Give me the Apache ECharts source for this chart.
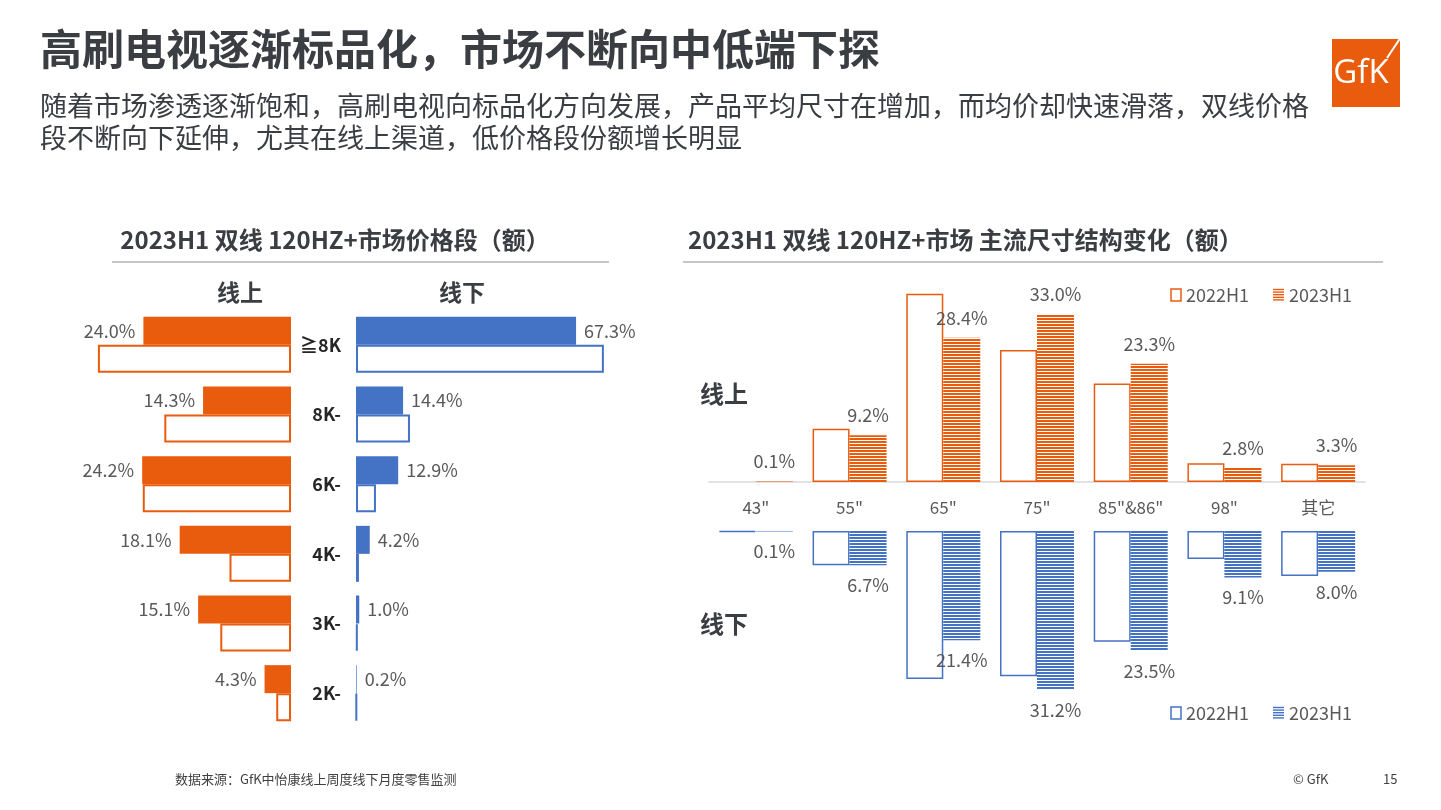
<!DOCTYPE html>
<html>
<head>
<meta charset="utf-8">
<script src="https://cdn.jsdelivr.net/npm/echarts@6/dist/echarts.min.js"></script>
<style>
html,body{margin:0;padding:0;background:#fff;}
#chart{width:1441px;height:810px;}
</style>
</head>
<body>
<div id="chart"></div>
<script>
// ---------- data ----------
const priceCats = ['≧8K', '8K-', '6K-', '4K-', '3K-', '2K-'];
const online2023Price = [24.0, 14.3, 24.2, 18.1, 15.1, 4.3];
const online2022Price = [31.4, 20.6, 24.1, 10.0, 11.5, 2.4];
const offline2023Price = [67.3, 14.4, 12.9, 4.2, 1.0, 0.2];
const offline2022Price = [75.8, 16.5, 6.1, 0.9, 0.5, 0.2];

const sizeCats = ['43"', '55"', '65"', '75"', '85"&86"', '98"', '其它'];
const online2022Size = [0, 10.5, 37.1, 26.0, 19.4, 3.7, 3.6];
const online2023Size = [0.1, 9.2, 28.4, 33.0, 23.3, 2.8, 3.3];
const offline2022Size = [0.2, 6.7, 29.0, 28.5, 21.7, 5.5, 8.8];
const offline2023Size = [0.1, 6.7, 21.4, 31.2, 23.5, 9.1, 8.0];

const seriesNames = ['2022H1', '2023H1'];

// ---------- style ----------
const ORANGE = '#E95C0E';
const BLUE = '#4472C4';
const GRAY = '#595959';
const DARK = '#3a3d42';
const FONT = '"Noto Sans CJK SC", "Noto Sans", sans-serif';

function stripes(color) {
  const c = document.createElement('canvas');
  c.width = 4; c.height = 3;
  const ctx = c.getContext('2d');
  ctx.fillStyle = '#ffffff';
  ctx.fillRect(0, 0, 4, 3);
  ctx.fillStyle = color;
  ctx.fillRect(0, 0, 4, 2);
  return { image: c, repeat: 'repeat' };
}
// zero values get no outline (nothing drawn)
const outlined = arr => arr.map(v => v === 0 ? { value: v, itemStyle: { borderWidth: 0, color: 'transparent' } } : v);
const fmt = p => p.value.toFixed(1) + '%';
const valLabel = (pos, dist) => ({
  show: true, position: pos, distance: dist, formatter: fmt,
  color: GRAY, fontSize: 18, fontFamily: FONT
});

const chart = echarts.init(document.getElementById('chart'));

function txt(text, x, y, size, opts) {
  opts = opts || {};
  return {
    type: 'text', x: x, y: y, silent: true,
    style: {
      text: text, fill: opts.color || DARK,
      font: (opts.bold ? 'bold ' : '') + size + 'px ' + (opts.family || FONT),
      align: opts.align || 'left', verticalAlign: 'middle'
    }
  };
}
function legend(y, color) {
  const g = [];
  g.push({ type: 'rect', shape: { x: 1171, y: y - 6, width: 10, height: 12 },
           style: { fill: '#fff', stroke: color, lineWidth: 1.5 } });
  for (let i = 0; i < 5; i++) {
    g.push({ type: 'line', shape: { x1: 1273, y1: y - 5.5 + i * 2.6, x2: 1284, y2: y - 5.5 + i * 2.6 },
             style: { stroke: color, lineWidth: 1.4 } });
  }
  g.push(txt(seriesNames[0], 1186, y, 18, { color: GRAY }));
  g.push(txt(seriesNames[1], 1289, y, 18, { color: GRAY }));
  return g;
}

const graphics = [
  txt('高刷电视逐渐标品化，市场不断向中低端下探', 40, 49, 42, { bold: true }),
  txt('随着市场渗透逐渐饱和，高刷电视向标品化方向发展，产品平均尺寸在增加，而均价却快速滑落，双线价格', 40, 106, 27, { color: DARK }),
  txt('段不断向下延伸，尤其在线上渠道，低价格段份额增长明显', 40, 138, 27, { color: DARK }),
  // logo
  { type: 'rect', shape: { x: 1332, y: 39, width: 68, height: 68 }, style: { fill: ORANGE } },
  { type: 'line', shape: { x1: 1401, y1: 37, x2: 1387, y2: 58 }, style: { stroke: '#fff', lineWidth: 2 } },
  txt('GfK', 1361, 74, 33, { color: '#fff', align: 'center', family: '"Open Sans", sans-serif' }),
  // chart titles
  txt('2023H1 双线 120HZ+市场价格段（额）', 335, 240, 24, { bold: true, align: 'center' }),
  txt('2023H1 双线 120HZ+市场 主流尺寸结构变化（额）', 688, 240, 24, { bold: true }),
  { type: 'line', shape: { x1: 112, y1: 262, x2: 609, y2: 262 }, style: { stroke: '#8c8c8c', lineWidth: 1 } },
  { type: 'line', shape: { x1: 683, y1: 262, x2: 1383, y2: 262 }, style: { stroke: '#8c8c8c', lineWidth: 1 } },
  txt('线上', 240, 292, 23, { bold: true, align: 'center' }),
  txt('线下', 462, 292, 23, { bold: true, align: 'center' }),
  txt('线上', 700, 394, 24, { bold: true }),
  txt('线下', 700, 624, 24, { bold: true }),
  // footer
  txt('数据来源：GfK中怡康线上周度线下月度零售监测', 175, 779, 13, { color: '#404040' }),
  txt('© GfK', 1293, 779, 13, { color: '#404040' }),
  txt('15', 1383, 779, 13, { color: '#404040' })
].concat(legend(295, ORANGE), legend(713, BLUE));

const hidden = { show: false };
const option = {
  backgroundColor: '#ffffff',
  animation: false,
  textStyle: { fontFamily: FONT },
  grid: [
    { left: 45, top: 310, width: 246, height: 418 },
    { left: 356, top: 310, width: 327, height: 418 },
    { left: 709, top: 279, width: 656, height: 203 },
    { left: 709, top: 531, width: 656, height: 204 }
  ],
  xAxis: [
    { gridIndex: 0, type: 'value', min: 0, max: 40, inverse: true, show: false },
    { gridIndex: 1, type: 'value', min: 0, max: 100, show: false },
    { gridIndex: 2, type: 'category', data: sizeCats,
      axisLine: { show: true, lineStyle: { color: '#d9d9d9', width: 1.5 } },
      axisTick: hidden,
      axisLabel: { color: GRAY, fontSize: 17, margin: 17, fontFamily: FONT } },
    { gridIndex: 3, type: 'category', data: sizeCats, show: false }
  ],
  yAxis: [
    { gridIndex: 0, type: 'category', data: priceCats, inverse: true, show: false },
    { gridIndex: 1, type: 'category', data: priceCats, inverse: true,
      axisLine: hidden, axisTick: hidden, splitLine: hidden,
      axisLabel: { color: '#262626', fontSize: 18, fontWeight: 'bold', margin: 15, fontFamily: FONT } },
    { gridIndex: 2, type: 'value', min: 0, max: 40, show: false, splitLine: hidden },
    { gridIndex: 3, type: 'value', min: 0, max: 40, inverse: true, show: false, splitLine: hidden }
  ],
  series: [
    { name: seriesNames[1], type: 'bar', xAxisIndex: 0, yAxisIndex: 0, data: online2023Price,
      barWidth: 28, barGap: '0%', itemStyle: { color: ORANGE }, label: valLabel('left', 8) },
    { name: seriesNames[0], type: 'bar', xAxisIndex: 0, yAxisIndex: 0, data: outlined(online2022Price),
      barWidth: 28, barGap: '0%', itemStyle: { color: '#fff', borderColor: ORANGE, borderWidth: 2 } },
    { name: seriesNames[1], type: 'bar', xAxisIndex: 1, yAxisIndex: 1, data: offline2023Price,
      barWidth: 28, barGap: '0%', itemStyle: { color: BLUE }, label: valLabel('right', 8) },
    { name: seriesNames[0], type: 'bar', xAxisIndex: 1, yAxisIndex: 1, data: outlined(offline2022Price),
      barWidth: 28, barGap: '0%', itemStyle: { color: '#fff', borderColor: BLUE, borderWidth: 2 } },

    { name: seriesNames[0], type: 'bar', xAxisIndex: 2, yAxisIndex: 2, data: outlined(online2022Size),
      barWidth: 37, barGap: '0%', itemStyle: { color: '#fff', borderColor: ORANGE, borderWidth: 1.5 } },
    { name: seriesNames[1], type: 'bar', xAxisIndex: 2, yAxisIndex: 2, data: online2023Size,
      barWidth: 37, barGap: '0%', itemStyle: { color: stripes(ORANGE) }, label: valLabel('top', 11) },
    { name: seriesNames[0], type: 'bar', xAxisIndex: 3, yAxisIndex: 3, data: outlined(offline2022Size),
      barWidth: 37, barGap: '0%', itemStyle: { color: '#fff', borderColor: BLUE, borderWidth: 1.5 } },
    { name: seriesNames[1], type: 'bar', xAxisIndex: 3, yAxisIndex: 3, data: offline2023Size,
      barWidth: 37, barGap: '0%', itemStyle: { color: stripes(BLUE) }, label: valLabel('bottom', 11) }
  ],
  graphic: { elements: graphics }
};
chart.setOption(option);
</script>
</body>
</html>
